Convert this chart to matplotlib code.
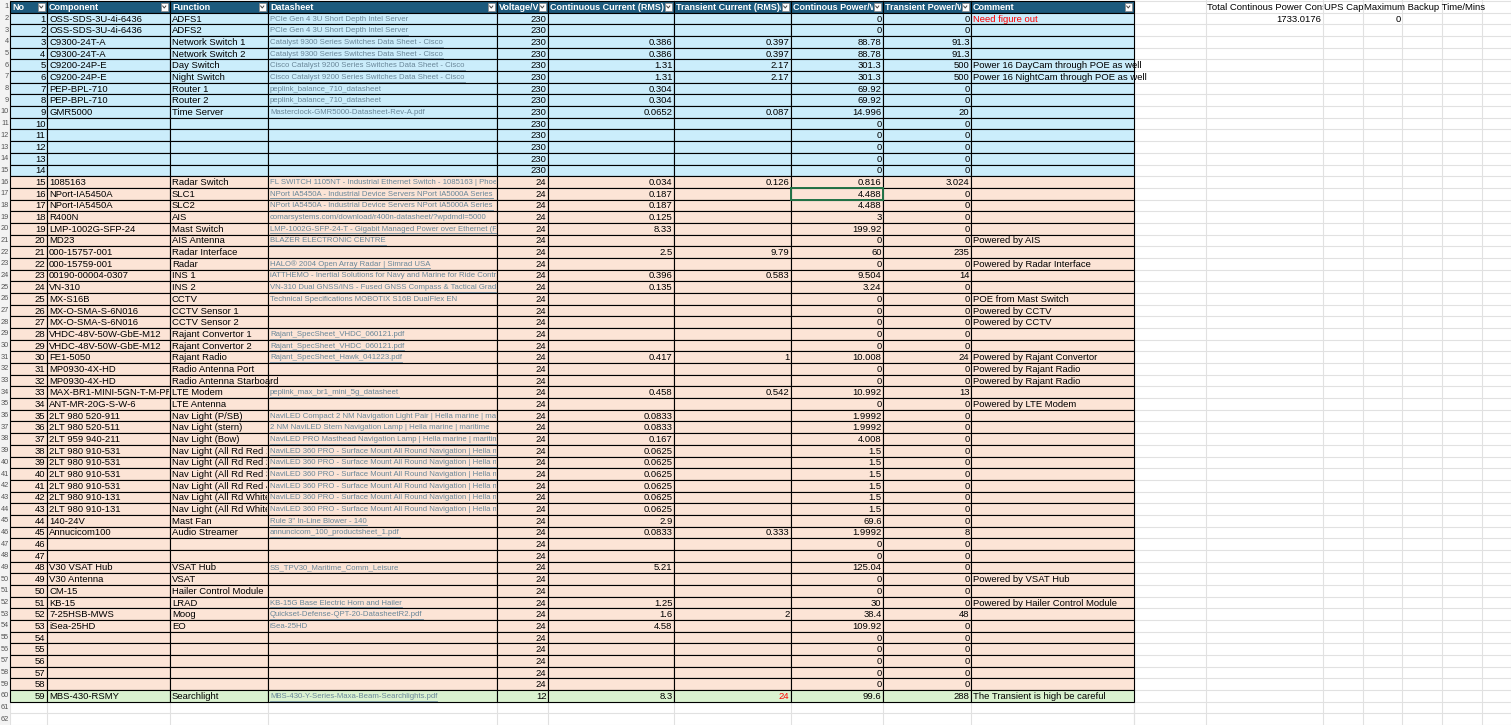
import matplotlib
matplotlib.use("Agg")
import matplotlib.pyplot as plt
from matplotlib.patches import Rectangle
from matplotlib.transforms import Bbox, TransformedBbox

plt.rcParams["font.family"] = "Liberation Sans"

headers = ["No", "Component", "Function", "Datasheet", "Voltage/V", "Continuous Current (RMS)/A",
           "Transient Current (RMS)/A", "Continous Power/W", "Transient Power/W", "Comment"]

component = ["OSS-SDS-3U-4i-6436", "OSS-SDS-3U-4i-6436", "C9300-24T-A", "C9300-24T-A", "C9200-24P-E",
             "C9200-24P-E", "PEP-BPL-710", "PEP-BPL-710", "GMR5000", "", "", "", "", "",
             "1085163", "NPort-IA5450A", "NPort-IA5450A", "R400N", "LMP-1002G-SFP-24", "MD23",
             "000-15757-001", "000-15759-001", "00190-00004-0307", "VN-310", "MX-S16B",
             "MX-O-SMA-S-6N016", "MX-O-SMA-S-6N016", "VHDC-48V-50W-GbE-M12", "VHDC-48V-50W-GbE-M12",
             "FE1-5050", "MP0930-4X-HD", "MP0930-4X-HD", "MAX-BR1-MINI-5GN-T-M-PRM", "ANT-MR-20G-S-W-6",
             "2LT 980 520-911", "2LT 980 520-511", "2LT 959 940-211", "2LT 980 910-531", "2LT 980 910-531",
             "2LT 980 910-531", "2LT 980 910-531", "2LT 980 910-131", "2LT 980 910-131", "140-24V",
             "Annucicom100", "", "", "V30 VSAT Hub", "V30 Antenna", "CM-15", "KB-15", "7-25HSB-MWS",
             "iSea-25HD", "", "", "", "", "", "MBS-430-RSMY"]

function = ["ADFS1", "ADFS2", "Network Switch 1", "Network Switch 2", "Day Switch", "Night Switch",
            "Router 1", "Router 2", "Time Server", "", "", "", "", "",
            "Radar Switch", "SLC1", "SLC2", "AIS", "Mast Switch", "AIS Antenna", "Radar Interface", "Radar",
            "INS 1", "INS 2", "CCTV", "CCTV Sensor 1", "CCTV Sensor 2", "Rajant Convertor 1",
            "Rajant Convertor 2", "Rajant Radio", "Radio Antenna Port", "Radio Antenna Starboard",
            "LTE Modem", "LTE Antenna", "Nav Light (P/SB)", "Nav Light (stern)", "Nav Light (Bow)",
            "Nav Light (All Rd Red 1)", "Nav Light (All Rd Red 2)", "Nav Light (All Rd Red 3)",
            "Nav Light (All Rd Red 4)", "Nav Light (All Rd White 1)", "Nav Light (All Rd White 2)",
            "Mast Fan", "Audio Streamer", "", "", "VSAT Hub", "VSAT", "Hailer Control Module", "LRAD",
            "Moog", "EO", "", "", "", "", "", "Searchlight"]

nav360 = "NaviLED 360 PRO - Surface Mount All Round Navigation | Hella marine"
datasheet = ["PCIe Gen 4 3U Short Depth Intel Server", "PCIe Gen 4 3U Short Depth Intel Server",
             "Catalyst 9300 Series Switches Data Sheet - Cisco", "Catalyst 9300 Series Switches Data Sheet - Cisco",
             "Cisco Catalyst 9200 Series Switches Data Sheet - Cisco",
             "Cisco Catalyst 9200 Series Switches Data Sheet - Cisco",
             "peplink_balance_710_datasheet", "peplink_balance_710_datasheet",
             "Masterclock-GMR5000-Datasheet-Rev-A.pdf", "", "", "", "", "",
             "FL SWITCH 1105NT - Industrial Ethernet Switch - 1085163 | Phoenix Contact",
             "NPort IA5450A - Industrial Device Servers NPort IA5000A Series",
             "NPort IA5450A - Industrial Device Servers NPort IA5000A Series",
             "comarsystems.com/download/r400n-datasheet/?wpdmdl=5000",
             "LMP-1002G-SFP-24-T - Gigabit Managed Power over Ethernet (PoE) Switch",
             "BLAZER ELECTRONIC CENTRE", "", "HALO® 2004 Open Array Radar | Simrad USA",
             "iATTHEMO - Inertial Solutions for Navy and Marine for Ride Control",
             "VN-310 Dual GNSS/INS - Fused GNSS Compass & Tactical Grade",
             "Technical Specifications MOBOTIX S16B DualFlex EN", "", "",
             "Rajant_SpecSheet_VHDC_060121.pdf", "Rajant_SpecSheet_VHDC_060121.pdf",
             "Rajant_SpecSheet_Hawk_041223.pdf", "", "", "peplink_max_br1_mini_5g_datasheet", "",
             "NaviLED Compact 2 NM Navigation Light Pair | Hella marine | maritime",
             "2 NM NaviLED Stern Navigation Lamp | Hella marine | maritime",
             "NaviLED PRO Masthead Navigation Lamp | Hella marine | maritime",
             nav360, nav360, nav360, nav360, nav360, nav360,
             "Rule 3\" In-Line Blower - 140", "annuncicom_100_productsheet_1.pdf", "", "",
             "SS_TPV30_Maritime_Comm_Leisure", "", "", "KB-15G Base Electric Horn and Hailer",
             "Quickset-Defense-QPT-20-DatasheetR2.pdf", "iSea-25HD", "", "", "", "", "",
             "MBS-430-Y-Series-Maxa-Beam-Searchlights.pdf"]

underlined = {2, 3, 4, 5, 6, 16, 17, 19, 20, 22, 24, 28, 29, 30, 33, 36, 37, 38, 39, 40, 44, 45, 51, 52, 59}

voltage = [230] * 14 + [24] * 44 + [12]

cont_current = [None, None, 0.386, 0.386, 1.31, 1.31, 0.304, 0.304, 0.0652, None, None, None, None, None,
                0.034, 0.187, 0.187, 0.125, 8.33, None, 2.5, None, 0.396, 0.135, None, None, None, None, None,
                0.417, None, None, 0.458, None, 0.0833, 0.0833, 0.167, 0.0625, 0.0625, 0.0625, 0.0625,
                0.0625, 0.0625, 2.9, 0.0833, None, None, 5.21, None, None, 1.25, 1.6, 4.58,
                None, None, None, None, None, 8.3]

trans_current = [None, None, 0.397, 0.397, 2.17, 2.17, None, None, 0.087, None, None, None, None, None,
                 0.126, None, None, None, None, None, 9.79, None, 0.583, None, None, None, None, None, None,
                 1, None, None, 0.542, None, None, None, None, None, None, None, None, None, None, None,
                 0.333, None, None, None, None, None, None, 2, None, None, None, None, None, None, 24]

cont_power = [0, 0, 88.78, 88.78, 301.3, 301.3, 69.92, 69.92, 14.996, 0, 0, 0, 0, 0,
              0.816, 4.488, 4.488, 3, 199.92, 0, 60, 0, 9.504, 3.24, 0, 0, 0, 0, 0, 10.008, 0, 0, 10.992, 0,
              1.9992, 1.9992, 4.008, 1.5, 1.5, 1.5, 1.5, 1.5, 1.5, 69.6, 1.9992, 0, 0, 125.04, 0, 0, 30,
              38.4, 109.92, 0, 0, 0, 0, 0, 99.6]

trans_power = [0, 0, 91.3, 91.3, 500, 500, 0, 0, 20, 0, 0, 0, 0, 0,
               3.024, 0, 0, 0, 0, 0, 235, 0, 14, 0, 0, 0, 0, 0, 0, 24, 0, 0, 13, 0,
               0, 0, 0, 0, 0, 0, 0, 0, 0, 0, 8, 0, 0, 0, 0, 0, 0, 48, 0, 0, 0, 0, 0, 0, 288]

comment = ["Need figure out", "", "", "", "Power 16 DayCam through POE as well",
           "Power 16 NightCam through POE as well", "", "", "", "", "", "", "", "",
           "", "", "", "", "", "Powered by AIS", "", "Powered by Radar Interface", "", "",
           "POE from Mast Switch", "Powered by CCTV", "Powered by CCTV", "", "", "Powered by Rajant Convertor",
           "Powered by Rajant Radio", "Powered by Rajant Radio", "", "Powered by LTE Modem",
           "", "", "", "", "", "", "", "", "", "", "", "", "", "", "Powered by VSAT Hub", "",
           "Powered by Hailer Control Module", "", "", "", "", "", "", "", "The Transient is high be careful"]

side_headers = ["Total Continous Power Consumption/W", "UPS Capacity/Wh", "Maximum Backup Time/Mins"]
side_values = [1733.0176, None, 0]

# ---------- layout ----------
W, H = 1511, 725
fig = plt.figure(figsize=(W / 100, H / 100), dpi=100)
ax = fig.add_axes([0, 0, 1, 1])
ax.set_xlim(0, W)
ax.set_ylim(H, 0)
ax.axis("off")

cols = [10, 47, 170, 268, 497, 548, 674, 791, 883, 971, 1134]
side_cols = [1134, 1206, 1323, 1363, 1402, 1442, 1482, 1511]
rh = 11.68
y0 = 1.0
FS = 6.8
HFS = 6.5
DFS = 5.6
nrows = len(component)

def row_top(r):
    return y0 + r * rh

def fmt(v):
    if v is None:
        return ""
    if float(v) == int(v):
        return str(int(v))
    return "%.10g" % v

fill_for = {230: "#CBEDFB", 24: "#FCE4D6", 12: "#DAF2D0"}

for r in range(0, 63):
    y = row_top(r)
    ax.plot([cols[0], W], [y, y], color="#E1E1E1", lw=0.8, zorder=0)
for x in cols + side_cols:
    ax.plot([x, x], [0, H], color="#E1E1E1", lw=0.8, zorder=0)

ax.add_patch(Rectangle((0, 0), cols[0], H, facecolor="#F3F3F3", edgecolor="none", zorder=1))
for r in range(0, 62):
    ax.text(cols[0] - 1, row_top(r) + rh / 2, str(r + 1), fontsize=5.3, color="#555555",
            ha="right", va="center", zorder=5)

def clipped_text(x, y, s, clip_x1, **kw):
    t = ax.text(x, y, s, zorder=6, **kw)
    bb = TransformedBbox(Bbox([[x - 200, 0], [clip_x1, H]]), ax.transData)
    t.set_clip_box(bb)
    t.set_clip_on(True)
    return t

hy = row_top(0)
for i in range(len(headers)):
    ax.add_patch(Rectangle((cols[i], hy), cols[i + 1] - cols[i], rh, facecolor="#1C5A7D",
                           edgecolor="black", lw=0.8, zorder=2))
    clipped_text(cols[i] + 2, hy + rh / 2 + 0.5, headers[i], cols[i + 1] - 10, fontsize=HFS,
                 color="white", fontweight="bold", va="center", ha="left")
    bx = cols[i + 1] - 9.5
    ax.add_patch(Rectangle((bx, hy + 2), 7.5, rh - 4, facecolor="white", edgecolor="#888888",
                           lw=0.5, zorder=3))
    ax.plot([bx + 2.2, bx + 3.75, bx + 5.3], [hy + 5, hy + 7, hy + 5], color="#444444", lw=0.7, zorder=4)

renderer = fig.canvas.get_renderer()
for k in range(nrows):
    yt = row_top(k + 1)
    yc = yt + rh / 2 + 0.5
    fc = fill_for[voltage[k]]
    for i in range(len(headers)):
        ax.add_patch(Rectangle((cols[i], yt), cols[i + 1] - cols[i], rh, facecolor=fc,
                               edgecolor="black", lw=0.8, zorder=2))
    ax.text(cols[1] - 1.5, yc, str(k + 1), fontsize=FS, ha="right", va="center", zorder=6)
    texts = [component[k], function[k], datasheet[k]]
    for j, s in enumerate(texts):
        if not s:
            continue
        ci = j + 1
        nxt = [function[k], datasheet[k], "x"][j]
        clip_x = cols[ci + 1] - 1 if nxt else cols[ci + 2] - 1
        if j == 2:
            t = clipped_text(cols[ci] + 2, yc, s, clip_x, fontsize=DFS, color="#6A8799",
                             ha="left", va="center")
            if (k + 1) in underlined:
                w = t.get_window_extent(renderer=renderer).width
                ax.plot([cols[ci] + 2, min(cols[ci] + 2 + w, clip_x)], [yt + rh - 1.2] * 2,
                        color="#6A8799", lw=0.6, zorder=6)
        else:
            clipped_text(cols[ci] + 2, yc, s, clip_x, fontsize=FS, color="black", ha="left", va="center")
    nums = [voltage[k], cont_current[k], trans_current[k], cont_power[k], trans_power[k]]
    for j, v in enumerate(nums):
        s = fmt(v)
        if s:
            color = "red" if (j == 2 and k == nrows - 1) else "black"
            ax.text(cols[5 + j] - 1.5, yc, s, fontsize=FS, ha="right", va="center", color=color, zorder=6)
    if comment[k]:
        ax.text(cols[9] + 2, yc, comment[k], fontsize=FS, ha="left", va="center",
                color="red" if k == 0 else "black", zorder=6)

ax.add_patch(Rectangle((cols[7], row_top(16)), cols[8] - cols[7], rh, facecolor="none",
                       edgecolor="#217346", lw=1.4, zorder=7))

hyc = row_top(0) + rh / 2 + 0.5
clipped_text(side_cols[1] + 1, hyc, side_headers[0], side_cols[2] - 0.5, fontsize=FS, ha="left", va="center")
clipped_text(side_cols[2] + 1, hyc, side_headers[1], side_cols[3] - 0.5, fontsize=FS, ha="left", va="center")
ax.text(side_cols[3] + 1, hyc, side_headers[2], fontsize=FS, ha="left", va="center", zorder=6)
for j, v in enumerate(side_values):
    s = fmt(v)
    if s:
        ax.text(side_cols[j + 2] - 1.5, row_top(1) + rh / 2 + 0.5, s, fontsize=FS, ha="right",
                va="center", zorder=6)

fig.savefig("out.png", dpi=100)
